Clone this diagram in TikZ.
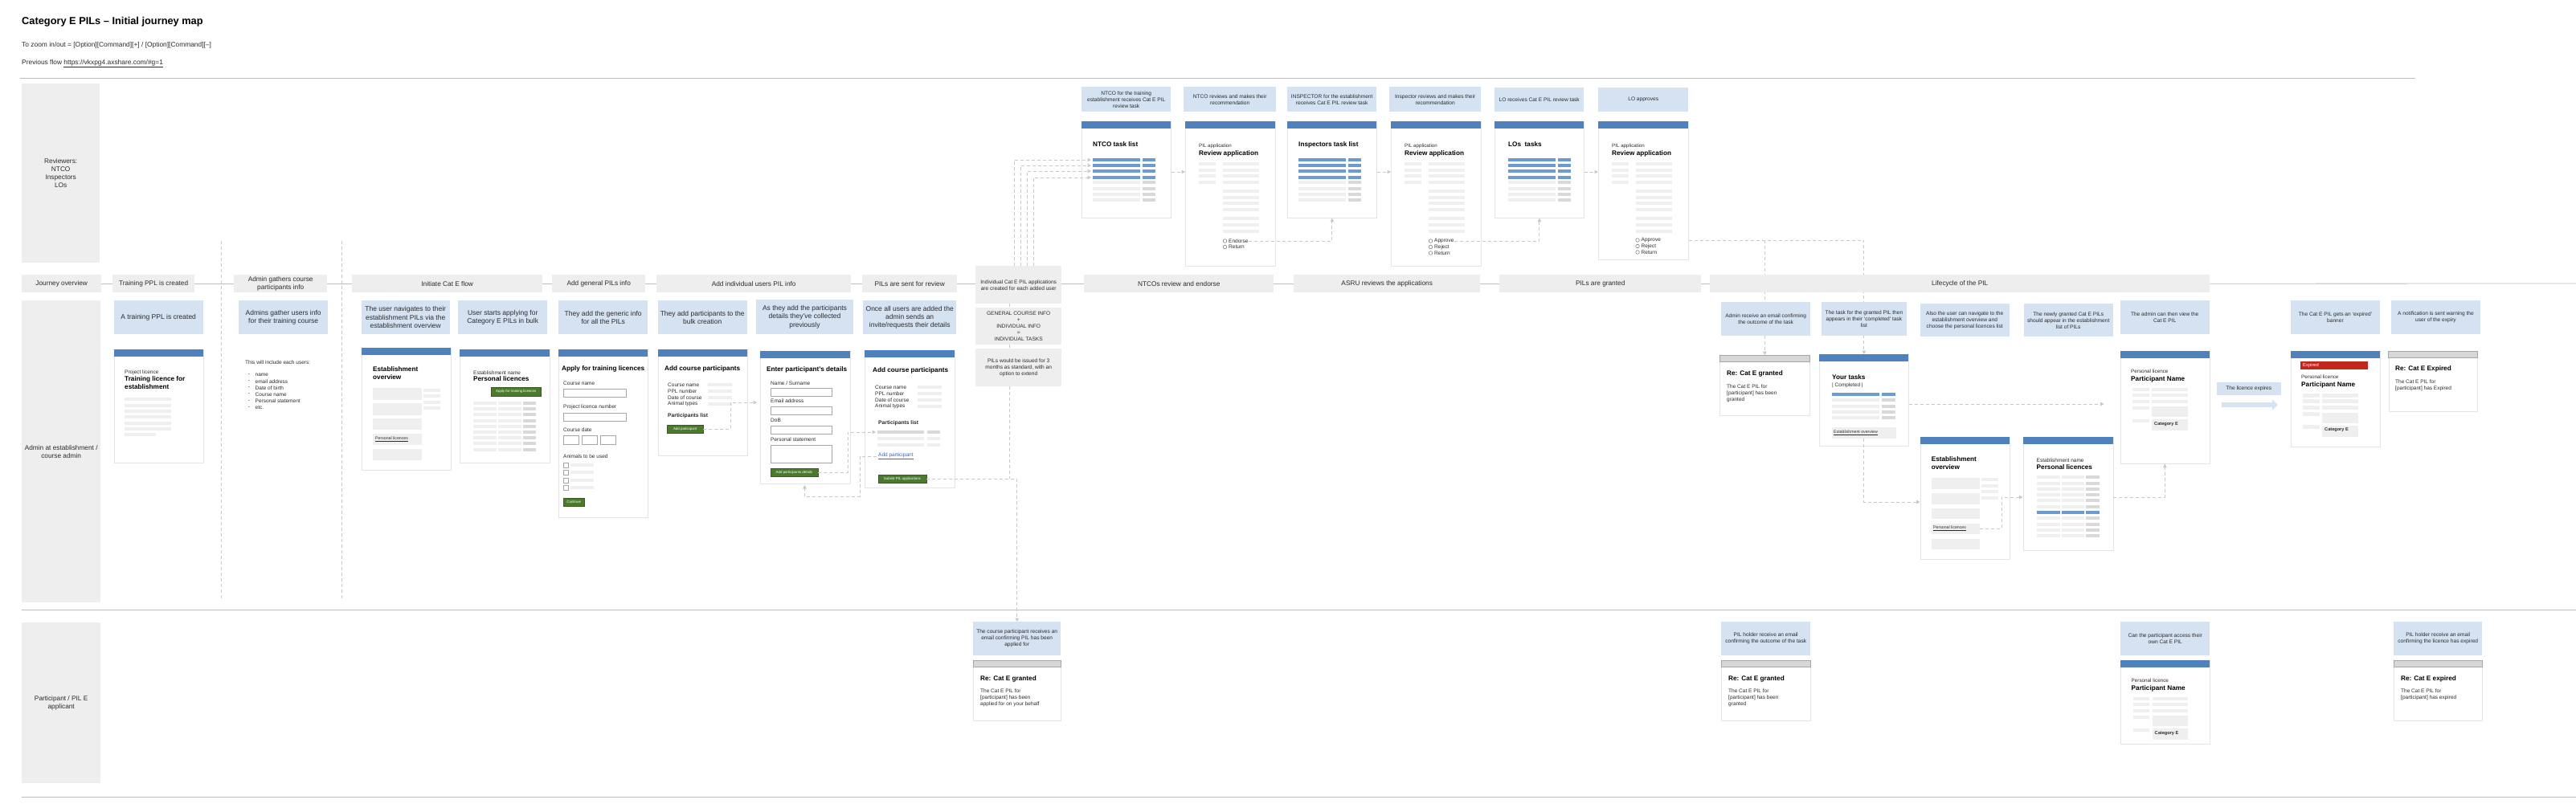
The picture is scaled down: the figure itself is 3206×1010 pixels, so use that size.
\documentclass[tikz,border=0pt]{standalone}
\usepackage{fontspec}
\setmainfont{Liberation Sans}
\usetikzlibrary{arrows.meta}
\pgfdeclarelayer{bg}
\pgfsetlayers{bg,main}
\definecolor{lblue}{HTML}{D4E2F2}
\definecolor{hblue}{HTML}{4F81BD}
\definecolor{rblue}{HTML}{6C9AD4}
\definecolor{lgray}{HTML}{EEEEEE}
\definecolor{phg}{HTML}{EFEFEF}
\definecolor{phd}{HTML}{D9D9D9}
\definecolor{cborder}{HTML}{E4E4E4}
\definecolor{dline}{HTML}{C8C8C8}
\definecolor{sline}{HTML}{BDBDBD}
\definecolor{bgreen}{HTML}{4B7A2D}
\definecolor{bred}{HTML}{C1271C}
\definecolor{mailh}{HTML}{D7D7D7}
\definecolor{linkblue}{HTML}{3B66C4}
\definecolor{txt}{HTML}{2B2B2B}
\newcommand{\fsz}[2]{\fontsize{#1}{#2}\selectfont}
\tikzset{
  lane/.style={fill=lgray, inner sep=0pt, align=center, font=\fsz{8.3}{10}, text=txt, anchor=north west},
  jhead/.style={fill=lgray, inner sep=0pt, minimum height=22pt, align=center, font=\fsz{8.3}{10}, text=txt, anchor=north west},
  gbox/.style={fill=lgray, inner sep=0pt, align=center, font=\fsz{6.6}{8}, text=txt, anchor=north west},
  lbl/.style={fill=lblue, inner sep=0pt, align=center, font=\fsz{8.5}{10.3}, text=txt, anchor=north west, minimum height=42pt},
  slbl/.style={lbl, font=\fsz{6.6}{8}},
  card/.style={fill=white, draw=cborder, line width=0.7pt, inner sep=0pt, anchor=north west},
  sm/.style={font=\fsz{6.5}{8}, text=txt, inner sep=0pt, anchor=west},
  ttl/.style={font=\bfseries\fsz{8.2}{10}, text=black, inner sep=0pt, anchor=west},
  tinyt/.style={font=\fsz{5.2}{6}, text=txt, inner sep=0pt, anchor=west},
  btn/.style={fill=bgreen, draw=bgreen!75!black, line width=0.4pt, text=white, font=\fsz{4.4}{5}, inner sep=0pt, anchor=north west},
  dcon/.style={draw=dline, line width=1pt, dash pattern=on 4pt off 3pt},
  dar/.style={dcon, -{Triangle[length=4.5pt,width=4.5pt]}},
  sl/.style={draw=sline, line width=0.8pt},
  inp/.style={draw=black!35, fill=white, line width=0.5pt},
}
\newcommand{\ph}[4]{\fill[#4] (#1,{#3-2.2}) rectangle (#2,{#3+2.2});}
\newcommand{\cardhead}[3]{\fill[hblue] (#1,#2) rectangle ++(#3,8.5);}
\newcommand{\mailhead}[3]{\filldraw[fill=mailh, draw=black!35, line width=0.5pt] (#1,#2) rectangle ++(#3,8.5);}
\newcommand{\tasklistrows}[1]{%
  \foreach \yq in {199,206,213,221}{\ph{#1}{#1+58.5}{\yq}{rblue}\ph{#1+61.5}{#1+78}{\yq}{rblue}}%
  \foreach \yq in {227,235,242,249}{\ph{#1}{#1+58.5}{\yq}{phg}\ph{#1+61.5}{#1+78}{\yq}{phd}}}
\newcommand{\reviewcontent}[1]{%
  \node[sm, font=\fsz{6.2}{7}] at (#1+17,182) {PIL application};
  \node[ttl] at (#1+17,191) {Review application};
  \foreach \yq in {204,212,219,227}{\ph{#1+17}{#1+38}{\yq}{phg}}
  \foreach \yq in {204,212,219,227,238,246,253,261,272,280,288}{\ph{#1+47}{#1+92}{\yq}{phg}}}
\newcommand{\radio}[4]{\draw[black!55, fill=white, line width=0.5pt] (#2,#3) circle (2.3pt); \node[sm] (#1) at (#2+4.5,#3) {#4};}
\newcommand{\pnamecard}[5]{%
  \node[card, minimum width=111pt, minimum height=#4pt] (#1) at (#2,#3) {};
  \fill[hblue] (#2,#3) rectangle ++(111,8.5);
  \path (#2,#3) ++(13.5,{25+#5}) node[sm, font=\fsz{6.3}{7}] {Personal licence};
  \path (#2,#3) ++(13.5,{35+#5}) node[ttl] {Participant Name};
  \foreach \dq in {48,55,63,71,87}{\fill[phg] (#2,#3) ++(15.5,{\dq+#5-2.2}) rectangle ++(20.5,4.4);}
  \foreach \dq in {48,55,63}{\fill[phg] (#2,#3) ++(39.5,{\dq+#5-2.2}) rectangle ++(44.5,4.4);}
  \fill[phg] (#2,#3) ++(39.5,{69+#5}) rectangle ++(44.5,13);
  \fill[phg] (#2,#3) ++(39.5,{85+#5}) rectangle ++(44.5,14);
  \path (#2,#3) ++(42.5,{91+#5}) node[sm, font=\bfseries\fsz{5.6}{6}] {Category E};}
\begin{document}
\begin{tikzpicture}[x=1pt,y=-1pt]
\useasboundingbox (0,0) rectangle (3206,1010);
\begin{pgfonlayer}{bg}
\fill[white] (0,0) rectangle (3206,1010);
\end{pgfonlayer}

% ---------- header ----------
\node[inner sep=0pt, anchor=west, font=\bfseries\fsz{12.8}{15}, text=black] (title) at (27,27) {Category E PILs – Initial journey map};
\node[inner sep=0pt, anchor=west, font=\fsz{8.4}{10}, text=txt] (zoomnote) at (27,56) {To zoom in/out = [Option][Command][+] / [Option][Command][–]};
\node[inner sep=0pt, anchor=west, font=\fsz{8.4}{10}, text=txt] (prevflow) at (27,79) {Previous flow \underline{https://vkxpg4.axshare.com/\#g=1}};

\draw[sl] (25,97) -- (3006,97);
\draw[sl] (27,759) -- (3206,759);
\draw[sl] (27,992) -- (3206,992);

% ---------- lanes ----------
\node[lane, minimum width=97pt, minimum height=223pt] (lrev) at (27,104) {Reviewers:\\NTCO\\Inspectors\\LOs};
\node[lane, minimum width=98pt, minimum height=376pt] (ladm) at (27,374) {Admin at establishment /\\course admin};
\node[lane, minimum width=98pt, minimum height=200pt] (lpar) at (27,775) {Participant / PIL E\\applicant};

% ---------- column separators ----------
\draw[dcon] (275.4,300) -- (275.4,748);
\draw[dcon] (425.5,300) -- (425.5,748);

% ---------- journey row ----------
\node[jhead, minimum width=99pt] (j0) at (27,342) {Journey overview};
\node[jhead, minimum width=102pt] (j1) at (140,342) {Training PPL is created};
\node[jhead, minimum width=116pt] (j2) at (291,342) {Admin gathers course\\participants info};
\node[jhead, minimum width=237pt] (j3) at (438,342) {Initiate Cat E flow};
\node[jhead, minimum width=116pt] (j4) at (687,342) {Add general PILs info};
\node[jhead, minimum width=242pt] (j5) at (817,342) {Add individual users PIL info};
\node[jhead, minimum width=118pt] (j6) at (1073,342) {PILs are sent for review};
\node[gbox, minimum width=107pt, minimum height=47pt] (jind) at (1214,331) {Individual Cat E PIL applications\\are created for each added user};
\node[gbox, minimum width=107pt, minimum height=46pt] (gci) at (1214,383) {GENERAL COURSE INFO\\+\\INDIVIDUAL INFO\\=\\INDIVIDUAL TASKS};
\node[gbox, minimum width=107pt, minimum height=47pt] (pilsb) at (1214,434) {PILs would be issued for 3\\months as standard, with an\\option to extend};
\node[jhead, minimum width=236pt] (j7) at (1349,342) {NTCOs review and endorse};
\node[jhead, minimum width=232pt] (j8) at (1610,342) {ASRU reviews the applications};
\node[jhead, minimum width=251pt] (j9) at (1866,342) {PILs are granted};
\node[jhead, minimum width=622pt] (j10) at (2128,342) {Lifecycle of the PIL};
\coordinate (jend) at (3206,353);
\draw[sl] (j0) -- (j1);
\draw[sl] (j1) -- (j2);
\draw[sl] (j2) -- (j3);
\draw[sl] (j3) -- (j4);
\draw[sl] (j4) -- (j5);
\draw[sl] (j5) -- (j6);
\draw[sl] (j6.east) -- (j6.east -| jind.west);
\draw[sl] (j7.west -| jind.east) -- (j7.west);
\draw[sl] (j7) -- (j8);
\draw[sl] (j8) -- (j9);
\draw[sl] (j9) -- (j10);
\draw[sl] (j10.east) -- (jend);
\coordinate (ja) at ([xshift=-11pt]jind.south);
\coordinate (jb) at ([xshift=-11pt]gci.south);
\coordinate (pj) at ([xshift=-11pt]pilsb.south);
\draw[dcon] (ja) -- (ja |- gci.north);
\draw[dcon] (jb) -- (jb |- pilsb.north);

% ---------- reviewer labels ----------
\node[slbl, minimum width=111pt, minimum height=31pt] (r1) at (1346,108) {NTCO for the training\\establishment receives Cat E PIL\\review task};
\node[slbl, minimum width=115pt, minimum height=31pt] (r2) at (1473,108) {NTCO reviews and makes their\\recommendation};
\node[slbl, minimum width=111pt, minimum height=31pt] (r3) at (1602,108) {INSPECTOR for the establishment\\receives Cat E PIL review task};
\node[slbl, minimum width=114pt, minimum height=31pt] (r4) at (1729,108) {Inspector reviews and makes their\\recommendation};
\node[slbl, minimum width=111pt, minimum height=30pt] (r5) at (1860,109) {LO receives Cat E PIL review task};
\node[slbl, minimum width=112pt, minimum height=30pt] (r6) at (1989,109) {LO approves};

% ---------- reviewer cards ----------
\node[card, minimum width=111pt, minimum height=120pt] (c1) at (1346,151) {};
\cardhead{1346}{151}{111}
\node[ttl] at (1360,180) {NTCO task list};
\tasklistrows{1360}

\node[card, minimum width=112pt, minimum height=180pt] (c2) at (1475,151) {};
\cardhead{1475}{151}{112}
\reviewcontent{1475}
\radio{end2}{1524.5}{300}{Endorse}
\radio{ret2}{1524.5}{307.5}{Return}

\node[card, minimum width=111pt, minimum height=120pt] (c3) at (1602,151) {};
\cardhead{1602}{151}{111}
\node[ttl] at (1616,180) {Inspectors task list};
\tasklistrows{1616}

\node[card, minimum width=112pt, minimum height=180pt] (c4) at (1731,151) {};
\cardhead{1731}{151}{112}
\reviewcontent{1731}
\radio{app4}{1780.5}{300}{Approve}
\radio{rej4}{1780.5}{307.5}{Reject}
\radio{ret4}{1780.5}{315}{Return}

\node[card, minimum width=111pt, minimum height=120pt] (c5) at (1860,151) {};
\cardhead{1860}{151}{111}
\node[ttl] at (1877,180) {LOs\ \ tasks};
\tasklistrows{1877}

\node[card, minimum width=112pt, minimum height=172pt] (c6) at (1989,151) {};
\cardhead{1989}{151}{112}
\reviewcontent{1989}
\radio{app6}{2038}{299}{Approve}
\radio{rej6}{2038}{306.5}{Reject}
\radio{ret6}{2038}{314}{Return}

% ---------- admin labels ----------
\node[lbl, minimum width=111pt] (a1) at (141.5,374) {A training PPL is created};
\node[lbl, minimum width=111pt] (a2) at (297,374) {Admins gather users info\\for their training course};
\node[lbl, minimum width=110pt] (a3) at (449.5,374) {The user navigates to their\\establishment PILs via the\\establishment overview};
\node[lbl, minimum width=111pt] (a4) at (570,374) {User starts applying for\\Category E PILs in bulk};
\node[lbl, minimum width=111pt] (a5) at (695,374) {They add the generic info\\for all the PILs};
\node[lbl, minimum width=111pt] (a6) at (818.5,374) {They add participants to the\\bulk creation};
\node[lbl, minimum width=120.5pt, minimum height=43pt] (a7) at (941,373) {As they add the participants\\details they’ve collected\\previously};
\node[lbl, minimum width=116pt] (a8) at (1074,374) {Once all users are added the\\admin sends an\\invite/requests their details};
\node[slbl, minimum width=111pt] (a9) at (2142,376) {Admin receive an email confirming\\the outcome of the task};
\node[slbl, minimum width=106.5pt] (a10) at (2266.5,376) {The task for the granted PIL then\\appears in their ‘completed’ task\\list};
\node[slbl, minimum width=111pt, minimum height=41pt] (a11) at (2389.5,378) {Also the user can navigate to the\\establishment overview and\\choose the personal licences list};
\node[slbl, minimum width=111pt, minimum height=41pt] (a12) at (2518.5,378) {The newly granted Cat E PILs\\should appear in the establishment\\list of PILs};
\node[slbl, minimum width=111pt] (a13) at (2638.5,374) {The admin can then view the\\Cat E PIL};
\node[slbl, minimum width=80pt, minimum height=16pt] (a14) at (2758.5,476) {The licence expires};
\node[slbl, minimum width=111.5pt] (a15) at (2850.5,374) {The Cat E PIL gets an ‘expired’\\banner};
\node[slbl, minimum width=111.5pt] (a16) at (2975.5,374) {A notification is sent warning the\\user of the expiry};
\coordinate (ex1) at (2765,504);
\coordinate (ex2) at (2835,504);
\draw[lblue, line width=6.5pt, -{Triangle[length=7pt,width=12.5pt]}] (ex1) -- (ex2);

% ---------- admin cards ----------
% training licence
\node[card, minimum width=111pt, minimum height=141pt] (k1) at (141.5,435) {};
\cardhead{141.5}{435}{111}
\node[sm] at (155,464) {Project licence};
\node[ttl, align=left] at (155,477) {Training licence for\\establishment};
\foreach \yq in {497,505,512,519,527,534}{\ph{155}{213}{\yq}{phg}}
\ph{155}{194}{541}{phg}

% admins gather list
\node[sm] (incl) at (305,451) {This will include each users:};
\foreach \yq/\lt [count=\ci] in {467/name,475/email address,483/Date of birth,491/Course name,499/Personal statement,507/etc.}{%
  \node[sm] (lid\ci) at (308.7,\yq) {-};
  \node[sm] (lit\ci) at (317.5,\yq) {\lt};}

% establishment overview
\node[card, minimum width=111.5pt, minimum height=152pt] (k3) at (449.5,433) {};
\cardhead{449.5}{433}{111.5}
\node[ttl, align=left] at (464,465) {Establishment\\overview};
\foreach \ya/\yb in {483/498,502/517,521/535,540/554,559/573}{\fill[phg] (464,\ya) rectangle (524.6,\yb);}
\node[tinyt] (lnkpl1) at (467,547) {\underline{Personal licences}};
\foreach \yq in {486,493,501,508}{\ph{527}{547.5}{\yq}{phg}}

% personal licences
\node[card, minimum width=112pt, minimum height=141pt] (k4) at (572,435) {};
\cardhead{572}{435}{112}
\node[sm] at (589,464) {Establishment name};
\node[ttl] at (589,472) {Personal licences};
\node[btn, minimum width=62pt, minimum height=11pt] (btnapply) at (611,482) {Apply for training licences};
\foreach \yq in {502,509,516,524,531,538,545,552,560}{\ph{589}{618}{\yq}{phg}\ph{620}{648.6}{\yq}{phg}\ph{650.5}{666.5}{\yq}{phd}}

% apply for training licences
\node[card, minimum width=111pt, minimum height=209pt] (k5) at (695,435) {};
\cardhead{695}{435}{111}
\node[ttl] at (699,459) {Apply for training licences};
\node[sm] at (701,477) {Course name};
\draw[inp] (701,484) rectangle (779,494);
\node[sm] at (701,507) {Project licence number};
\draw[inp] (701,514) rectangle (779,524);
\node[sm] at (701,535) {Course date};
\draw[inp] (701,542) rectangle (720,553);
\draw[inp] (724,542) rectangle (743,553);
\draw[inp] (747,542) rectangle (766,553);
\node[sm] at (701,568) {Animals to be used};
\foreach \yq in {579,588,598,607}{\draw[inp] (701,{\yq-3}) rectangle (707,{\yq+3}); \ph{710}{739}{\yq}{phg}}
\node[btn, minimum width=26pt, minimum height=10pt] (btncont) at (701,620) {Continue};

% add course participants 1
\node[card, minimum width=111pt, minimum height=132pt] (k6) at (818.5,435) {};
\cardhead{818.5}{435}{111}
\node[ttl] at (827,459) {Add course participants};
\foreach \yq/\lt in {479/Course name,487/PPL number,495/Date of course,503/Animal types}{\node[sm] at (831,\yq) {\lt}; \ph{881}{911}{\yq}{phg}}
\node[sm, font=\bfseries\fsz{6.7}{8}] at (831,518) {Participants list};
\node[btn, minimum width=45pt, minimum height=10pt] (btnaddp) at (830,529) {Add participant};

% enter participant's details
\node[card, minimum width=112pt, minimum height=165pt] (k7) at (946,437) {};
\cardhead{946}{437}{112}
\node[ttl] at (954,460) {Enter participant’s details};
\node[sm] at (959,477) {Name / Surname};
\draw[inp] (959,483) rectangle (1035.5,493);
\node[sm] at (959,499) {Email address};
\draw[inp] (959,506) rectangle (1035.5,516);
\node[sm] at (959,523) {DoB};
\draw[inp] (959,530) rectangle (1035.5,540);
\node[sm] at (959,547) {Personal statement};
\draw[inp] (959,554) rectangle (1035.5,576);
\node[btn, minimum width=58.5pt, minimum height=10pt] (btnapd) at (959,583) {Add participants details};

% add course participants 2
\node[card, minimum width=112pt, minimum height=171pt] (k8) at (1076,436) {};
\cardhead{1076}{436}{112}
\node[ttl] at (1086,461) {Add course participants};
\foreach \yq/\lt in {482/Course name,490/PPL number,498/Date of course,506/Animal types}{\node[sm] at (1089,\yq) {\lt}; \ph{1142}{1172}{\yq}{phg}}
\node[sm, font=\bfseries\fsz{6.7}{8}] at (1093,527) {Participants list};
\ph{1092}{1150}{538}{phd}\ph{1154}{1170}{538}{phd}
\ph{1092}{1150}{546}{phg}\ph{1154}{1170}{546}{phg}
\ph{1092}{1150}{554}{phg}\ph{1154}{1170}{554}{phg}
\node[sm, text=linkblue] (lnkadd) at (1093,568) {\underline{Add participant}};
\node[btn, minimum width=60.5pt, minimum height=10pt] (btnsub) at (1092.5,591) {Submit PIL applications};

% re: cat e granted (admin)
\node[card, minimum width=112pt, minimum height=75pt] (k9) at (2140,442) {};
\mailhead{2140}{442}{112}
\node[ttl] at (2149,465) {Re: Cat E granted};
\node[sm, align=left] at (2149,489.5) {The Cat E PIL for\\{}[participant] has been\\granted};

% your tasks
\node[card, minimum width=111pt, minimum height=114pt] (k10) at (2264,441) {};
\cardhead{2264}{441}{111}
\node[ttl] at (2280,470) {Your tasks};
\node[sm] at (2280,480) {| Completed |};
\ph{2280}{2339}{491}{rblue}\ph{2342}{2358.5}{491}{rblue}
\foreach \yq in {498,506,513,520}{\ph{2280}{2339}{\yq}{phg}\ph{2342}{2358.5}{\yq}{phd}}
\fill[phg] (2279.6,532) rectangle (2359.6,546);
\node[tinyt] (lnkeo) at (2282,539) {\underline{Establishment overview}};

% establishment overview 2
\node[card, minimum width=111pt, minimum height=152pt] (k11) at (2389.5,544) {};
\cardhead{2389.5}{544}{111}
\node[ttl, align=left] at (2403.6,576.5) {Establishment\\overview};
\foreach \ya/\yb in {595/609,614/628,633/646,652/665,671/684}{\fill[phg] (2403.6,\ya) rectangle (2463.7,\yb);}
\node[tinyt] (lnkpl2) at (2406,658) {\underline{Personal licences}};
\foreach \yq in {597,605,612,620}{\ph{2466}{2487}{\yq}{phg}}

% personal licences 2
\node[card, minimum width=112pt, minimum height=141pt] (k12) at (2517.5,544) {};
\cardhead{2517.5}{544}{112}
\node[sm] at (2534.5,573) {Establishment name};
\node[ttl] at (2534.5,582) {Personal licences};
\foreach \yq in {594,602,609,616,623,631,645,653,660,667}{\ph{2534.5}{2563.6}{\yq}{phg}\ph{2565.5}{2594}{\yq}{phg}\ph{2596}{2612.6}{\yq}{phd}}
\ph{2534.5}{2563.6}{638}{rblue}\ph{2565.5}{2594}{638}{rblue}\ph{2596}{2612.6}{638}{rblue}

% participant name (admin)
\pnamecard{k13}{2638.5}{437}{140}{0}

% expired
\pnamecard{k14}{2850.5}{437}{119}{7.5}
\fill[bred] (2863,450) rectangle (2946.7,460);
\node[tinyt, text=white, font=\fsz{5.8}{6}] (expb) at (2866,455) {Expired};

% re: cat e expired
\node[card, minimum width=110.5pt, minimum height=75pt] (k15) at (2972.5,437) {};
\mailhead{2972.5}{437}{110.5}
\node[ttl] at (2981,459) {Re: Cat E Expired};
\node[sm, align=left] at (2981,479.5) {The Cat E PIL for\\{}[participant] has Expired};

% ---------- participant row ----------
\node[slbl, minimum width=109pt] (p1) at (1211,774) {The course participant receives an\\email confirming PIL has been\\applied for};
\node[card, minimum width=109pt, minimum height=75pt] (q1) at (1211,822) {};
\mailhead{1211}{822}{109}
\node[ttl] at (1220,845) {Re: Cat E granted};
\node[sm, align=left] at (1220,869) {The Cat E PIL for\\{}[participant] has been\\applied for on your behalf};

\node[slbl, minimum width=111pt] (p2) at (2142,774) {PIL holder receive an email\\confirming the outcome of the task};
\node[card, minimum width=111pt, minimum height=75pt] (q2) at (2142,822) {};
\mailhead{2142}{822}{111}
\node[ttl] at (2151,845) {Re: Cat E granted};
\node[sm, align=left] at (2151,869) {The Cat E PIL for\\{}[participant] has been\\granted};

\node[slbl, minimum width=111pt] (p3) at (2639,774) {Can the participant access their\\own Cat E PIL};
\pnamecard{q3}{2639}{822}{104}{0}

\node[slbl, minimum width=110pt] (p4) at (2979,774) {PIL holder receive an email\\confirming the licence has expired};
\node[card, minimum width=110pt, minimum height=75pt] (q4) at (2979,822) {};
\mailhead{2979}{822}{110}
\node[ttl] at (2988,845) {Re: Cat E expired};
\node[sm, align=left] at (2988,865) {The Cat E PIL for\\{}[participant] has expired};

% ---------- connectors ----------
\coordinate (t1) at (1358,199);
\coordinate (t2) at (1358,206);
\coordinate (t3) at (1358,213);
\coordinate (t4) at (1358,221);
\draw[dar] (jind.north -| 1262,0) |- (t1);
\draw[dar] (jind.north -| 1270,0) |- (t2);
\draw[dar] (jind.north -| 1278,0) |- (t3);
\draw[dar] (jind.north -| 1286,0) |- (t4);
\draw[dar] (c1.east |- 0,214) -- (c2.west |- 0,214);
\draw[dar] (c3.east |- 0,214) -- (c4.west |- 0,214);
\draw[dar] (c5.east |- 0,214) -- (c6.west |- 0,214);
\draw[dar] (end2.east) -| (c3.south);
\draw[dar] (app4.east) -| (c5.south);
\begin{pgfonlayer}{bg}
\draw[dar] (app6.east) -| (k10.north);
\draw[dar] (app6.east -| k9.north) -- (k9.north);
\end{pgfonlayer}

\coordinate (k7in) at (942,501);
\draw[dar] (btnaddp.east) -| (909,501) -- (k7in);
\coordinate (k8in) at (1090,538);
\draw[dar] (btnapd.east) -| (1055,538) -- (k8in);
\coordinate (k7bot) at (1001.5,604);
\draw[dar] ([xshift=-2pt]lnkadd.west) -| (1070.4,618) -| (k7bot);
\draw[dar] (btnsub.east) -| (p1.north);
\draw[dcon] (pj) -- (pj |- btnsub.east);

\draw[dar, shorten >=20pt] (k10.east |- 0,503) -- (k13.west |- 0,503);
\draw[dar] (k10.south |- 0,546) |- (k11.west |- 0,625);
\coordinate (b5r) at (2463.7,658);
\draw[dar] (b5r) -| (2491,619) -- (k12.west |- 0,619);
\draw[dar] (k12.east |- 0,619) -| (k13.south);
\end{tikzpicture}
\end{document}
